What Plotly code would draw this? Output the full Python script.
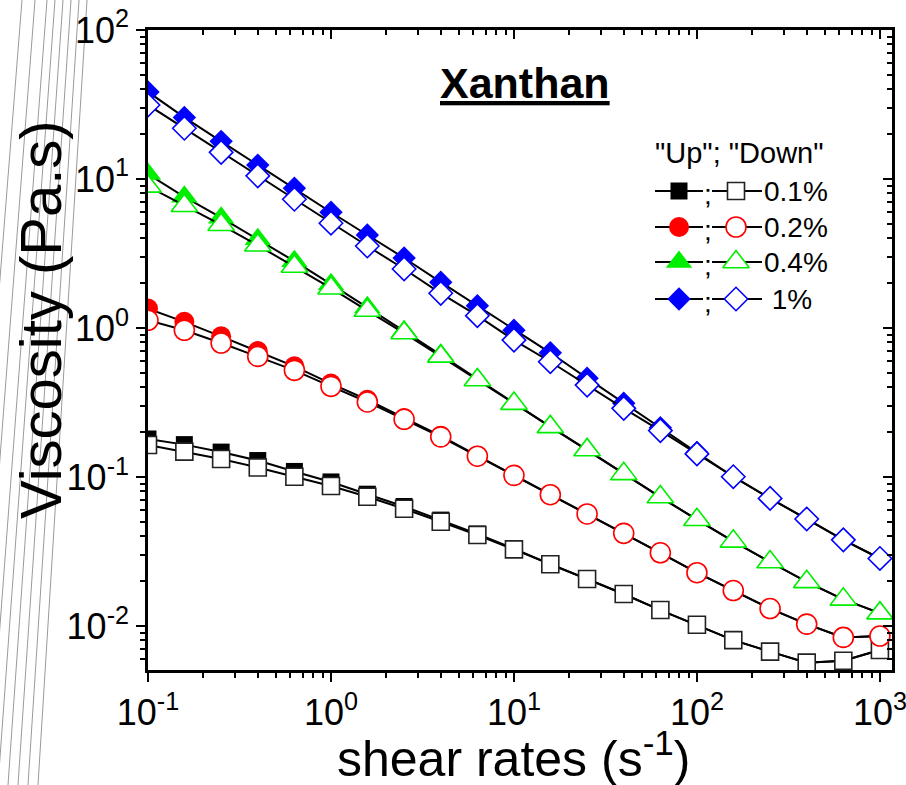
import plotly.graph_objects as go

# ---------------- data ----------------
shear_rate = [0.1, 0.158, 0.251, 0.398, 0.631, 1.0, 1.58, 2.51, 3.98, 6.31, 10.0,
              15.8, 25.1, 39.8, 63.1, 100.0, 158.0, 251.0, 398.0, 631.0, 1000.0]

visc_01_up = [0.180, 0.165, 0.147, 0.129, 0.109, 0.0927, 0.0767, 0.0634, 0.0514, 0.0415, 0.0330,
              0.0260, 0.0207, 0.0164, 0.0128, 0.0102, 0.00805, 0.00673, 0.00568, 0.00585, 0.00690]
visc_01_down = [0.164, 0.148, 0.132, 0.116, 0.1005, 0.0871, 0.0738, 0.0613, 0.0501, 0.0408, 0.0327,
                0.0260, 0.0207, 0.0164, 0.0128, 0.0102, 0.00805, 0.00673, 0.00568, 0.00585, 0.00690]

visc_02_up = [1.35, 1.10, 0.879, 0.701, 0.553, 0.424, 0.330, 0.249, 0.189, 0.139, 0.1026,
              0.0761, 0.0565, 0.0419, 0.0310, 0.0228, 0.0173, 0.0131, 0.0103, 0.00839, 0.00857]
visc_02_down = [1.127, 0.966, 0.793, 0.645, 0.520, 0.406, 0.319, 0.244, 0.186, 0.138, 0.1026,
                0.0761, 0.0565, 0.0419, 0.0310, 0.0228, 0.0173, 0.0131, 0.0103, 0.00839, 0.00857]

visc_04_up = [10.8, 7.60, 5.50, 3.94, 2.81, 1.97, 1.38, 0.953, 0.661, 0.455, 0.313,
              0.217, 0.152, 0.105, 0.0734, 0.0517, 0.0370, 0.0269, 0.0198, 0.0151, 0.0122]
visc_04_down = [8.93, 6.62, 4.93, 3.59, 2.59, 1.85, 1.31, 0.925, 0.645, 0.448, 0.311,
                0.217, 0.152, 0.105, 0.0734, 0.0517, 0.0370, 0.0269, 0.0198, 0.0151, 0.0122]

visc_1_up = [38.4, 25.9, 17.9, 12.4, 8.67, 5.98, 4.21, 2.95, 2.03, 1.41, 0.968,
             0.682, 0.461, 0.313, 0.214, 0.146, 0.1005, 0.0719, 0.0523, 0.0379, 0.0284]
visc_1_down = [31.4, 21.9, 15.1, 10.5, 7.31, 5.05, 3.55, 2.49, 1.71, 1.21, 0.830,
               0.594, 0.414, 0.289, 0.205, 0.143, 0.1005, 0.0719, 0.0523, 0.0379, 0.0284]

series_labels = ["0.1%", "0.2%", "0.4%", " 1%"]
x_tick_vals = [0.1, 1, 10, 100, 1000]
x_tick_text = ["10<sup>-1</sup>", "10<sup>0</sup>", "10<sup>1</sup>", "10<sup>2</sup>", "10<sup>3</sup>"]
y_tick_vals = [0.01, 0.1, 1, 10, 100]
y_tick_text = ["10<sup>-2</sup>", "10<sup>-1</sup>", "10<sup>0</sup>", "10<sup>1</sup>", "10<sup>2</sup>"]

# ---------------- styles ----------------
FONT = "Liberation Sans, Arial, Helvetica, sans-serif"
styles = [
    dict(color="#000000", symbol="square", size=17, outline="#222222"),
    dict(color="#FF0000", symbol="circle", size=20, outline="#FF0000"),
    dict(color="#00EE00", symbol="triangle-up", size=23, outline="#00EE00"),
    dict(color="#0000FF", symbol="diamond", size=18, outline="#0000FF"),
]
series = [(visc_01_up, visc_01_down), (visc_02_up, visc_02_down),
          (visc_04_up, visc_04_down), (visc_1_up, visc_1_down)]

fig = go.Figure()
for (up, down), st in zip(series, styles):
    fig.add_trace(go.Scatter(
        x=shear_rate, y=up, mode="lines+markers",
        line=dict(color="black", width=2),
        marker=dict(symbol=st["symbol"], size=st["size"], color=st["color"],
                    line=dict(width=0, color=st["color"])),
        showlegend=False, hoverinfo="skip"))
    fig.add_trace(go.Scatter(
        x=shear_rate, y=down, mode="lines+markers",
        line=dict(color="black", width=2),
        marker=dict(symbol=st["symbol"], size=st["size"], color="white",
                    line=dict(width=1.6, color=st["outline"])),
        showlegend=False, hoverinfo="skip"))

# invisible trace to hold the mirrored (top/right) axes
fig.add_trace(go.Scatter(x=[1], y=[1], xaxis="x2", yaxis="y2", mode="markers",
                         marker=dict(opacity=0), showlegend=False, hoverinfo="skip"))

X_RANGE = [-1, 3.066]
Y_RANGE = [-2.295, 2.0]
minor_x = [m * 10 ** e for e in range(-1, 4) for m in range(2, 10)]
minor_y = [m * 10 ** e for e in range(-3, 2) for m in range(2, 10)]

common = dict(type="log", showgrid=False, zeroline=False, linecolor="black", linewidth=2.5,
              tickcolor="black", tickwidth=2, ticklen=9, automargin=False)

fig.update_layout(
    width=906, height=785,
    margin=dict(l=148, r=14, t=30, b=115, autoexpand=False),
    paper_bgcolor="white", plot_bgcolor="rgba(0,0,0,0)",
    font=dict(family=FONT, color="black"),
    xaxis=dict(**common, range=X_RANGE, ticks="outside", mirror=False,
               tickmode="array", tickvals=x_tick_vals, ticktext=x_tick_text,
               tickfont=dict(size=36, family=FONT), ticklabeloverflow="allow",
               minor=dict(ticks="outside", ticklen=5, tickwidth=2, tickcolor="black",
                          tickmode="array", tickvals=minor_x, showgrid=False)),
    yaxis=dict(**common, range=Y_RANGE, ticks="outside", mirror=False,
               tickmode="array", tickvals=y_tick_vals, ticktext=y_tick_text,
               tickfont=dict(size=36, family=FONT), ticklabeloverflow="allow",
               minor=dict(ticks="outside", ticklen=5, tickwidth=2, tickcolor="black",
                          tickmode="array", tickvals=minor_y, showgrid=False)),
    xaxis2=dict(**common, range=X_RANGE, overlaying="x", side="top", anchor="y2",
                ticks="inside", showticklabels=False,
                tickmode="array", tickvals=x_tick_vals,
                minor=dict(ticks="inside", ticklen=5, tickwidth=2, tickcolor="black",
                           tickmode="array", tickvals=minor_x, showgrid=False)),
    yaxis2=dict(**common, range=Y_RANGE, overlaying="y", side="right", anchor="x2",
                ticks="inside", showticklabels=False,
                tickmode="array", tickvals=y_tick_vals,
                minor=dict(ticks="inside", ticklen=5, tickwidth=2, tickcolor="black",
                           tickmode="array", tickvals=minor_y, showgrid=False)),
    xaxis3=dict(domain=[0, 1], anchor="y3", range=[0, 1], visible=False, fixedrange=True,
                automargin=False),
    yaxis3=dict(domain=[0, 1], anchor="x3", range=[0, 1], visible=False, fixedrange=True,
                automargin=False),
)

# pixel -> paper helpers (plot area 148..892 x 30..670)
L, R, T, B = 148, 892, 30, 670
def px(x):
    return (x - L) / (R - L)
def py(y):
    return (B - y) / (B - T)

annotations = []
shapes = []

# axis titles and chart title
annotations.append(dict(text="Viscosity (Pa.s)", x=px(40), y=py(320), xref="paper", yref="paper",
                        textangle=-90, showarrow=False, font=dict(size=58, family=FONT),
                        xanchor="center", yanchor="middle"))
annotations.append(dict(text="shear rates (s<sup>-1</sup>)", x=px(513), y=py(755), xref="paper",
                        yref="paper", showarrow=False, font=dict(size=50, family=FONT),
                        xanchor="center", yanchor="middle"))
annotations.append(dict(text="<b><u>Xanthan</u></b>", x=px(525), y=py(83), xref="paper", yref="paper",
                        showarrow=False, font=dict(size=43, family=FONT),
                        xanchor="center", yanchor="middle"))

# legend (custom: "Up"; "Down")
annotations.append(dict(text='"Up"; "Down"', x=px(653), y=py(153), xref="paper", yref="paper",
                        showarrow=False, font=dict(size=29, family=FONT),
                        xanchor="left", yanchor="middle"))
row_y = [191, 227, 262, 299]
for ry, lab in zip(row_y, series_labels):
    shapes.append(dict(type="line", xref="paper", yref="paper", x0=px(655), x1=px(703),
                       y0=py(ry), y1=py(ry), line=dict(color="black", width=2), layer="below"))
    shapes.append(dict(type="line", xref="paper", yref="paper", x0=px(712), x1=px(762),
                       y0=py(ry), y1=py(ry), line=dict(color="black", width=2), layer="below"))
    annotations.append(dict(text=";", x=px(708), y=py(ry + 3), xref="paper", yref="paper",
                            showarrow=False, font=dict(size=28, family=FONT),
                            xanchor="center", yanchor="middle"))
    annotations.append(dict(text=lab, x=px(762), y=py(ry), xref="paper", yref="paper",
                            showarrow=False, font=dict(size=28, family=FONT),
                            xanchor="left", yanchor="middle"))

for ry, st in zip(row_y, styles):
    fig.add_trace(go.Scatter(x=[px(679)], y=[py(ry)], xaxis="x3", yaxis="y3", mode="markers",
                             marker=dict(symbol=st["symbol"], size=st["size"], color=st["color"],
                                         line=dict(width=0)),
                             showlegend=False, hoverinfo="skip", cliponaxis=False))
    fig.add_trace(go.Scatter(x=[px(736)], y=[py(ry)], xaxis="x3", yaxis="y3", mode="markers",
                             marker=dict(symbol=st["symbol"], size=st["size"], color="white",
                                         line=dict(width=1.6, color=st["outline"])),
                             showlegend=False, hoverinfo="skip", cliponaxis=False))

# faint diagonal page lines at far left of the original picture
gray_top = [22, 35, 47, 55, 63, 71, 79, 87]
gray_bot = [-40, -25, -12, -2, 8, 18, 28, 38]
for xt, xb in zip(gray_top, gray_bot):
    shapes.append(dict(type="line", xref="paper", yref="paper", x0=px(xt), y0=py(0),
                       x1=px(xb), y1=py(785), line=dict(color="#9a9a9a", width=1), layer="below"))

fig.update_layout(annotations=annotations, shapes=shapes)
fig.write_html("out.html", config={"displayModeBar": False},
               post_script="document.body.style.margin='0px';document.body.style.overflow='hidden';")
